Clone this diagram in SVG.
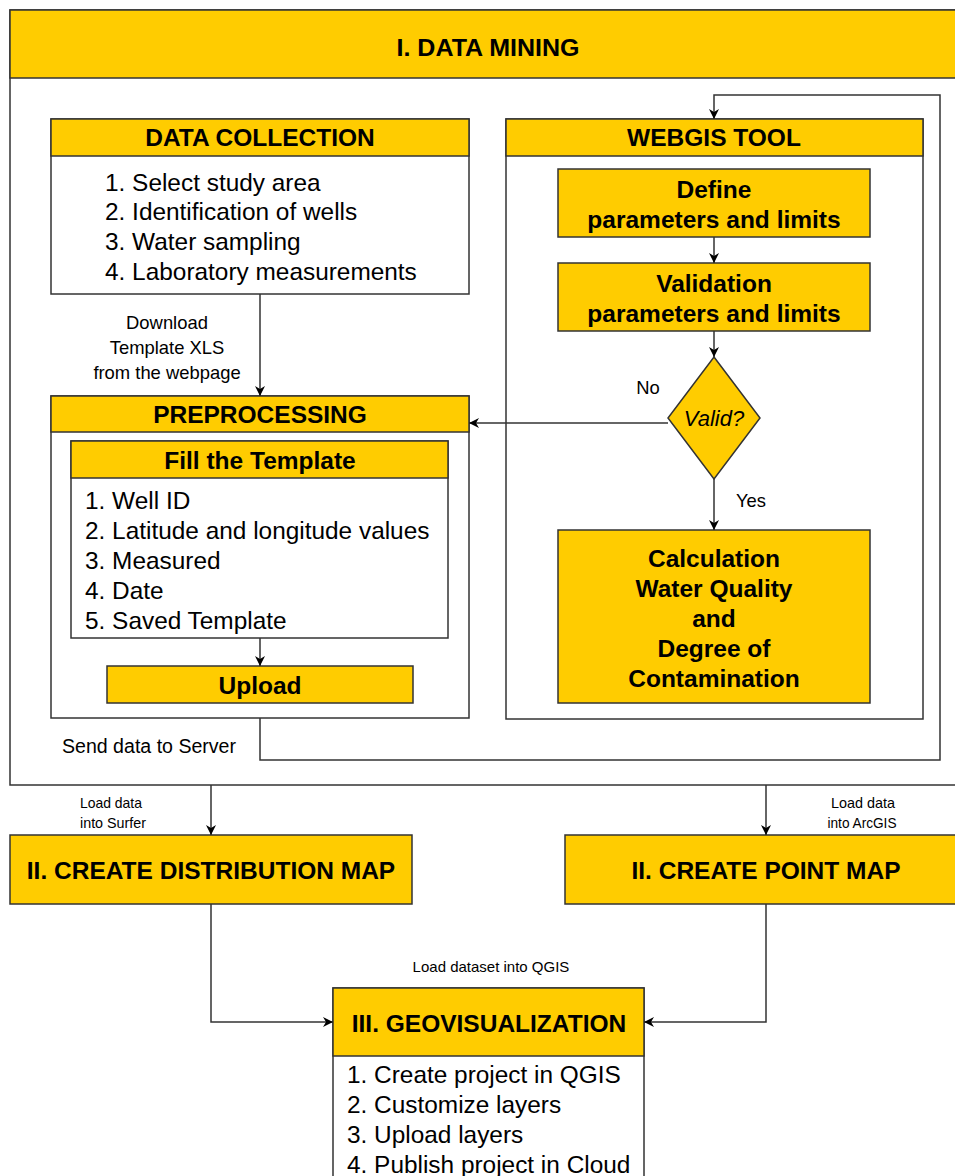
<svg xmlns="http://www.w3.org/2000/svg" width="955" height="1176" viewBox="0 0 955 1176">
  <style>
    .box { fill: #ffffff; stroke: #333333; stroke-width: 1.5; }
    .hdr { fill: #ffcc00; stroke: #333333; stroke-width: 1.5; }
    .edge { fill: none; stroke: #333333; stroke-width: 1.5; }
    text { font-family: "Liberation Sans", Arial, sans-serif; fill: #000000; }
    .title { font-size: 24.5px; font-weight: bold; text-anchor: middle; }
    .item { font-size: 24.4px; }
    .lbl { font-size: 18.4px; text-anchor: middle; }
    .cond { font-size: 20px; }
    .small { font-size: 15px; text-anchor: middle; }
  </style>
  <defs>
    <marker id="arrow" viewBox="0 0 10 10" refX="10" refY="5" markerWidth="10" markerHeight="10" markerUnits="userSpaceOnUse" orient="auto">
      <path d="M0,0 L10,5 L0,10 L3,5 Z" fill="#000000"/>
    </marker>
  </defs>

  <!-- Stage I container -->
  <g id="data-mining">
    <rect class="box" x="10" y="10" width="960" height="775"/>
    <rect class="hdr" x="10" y="10" width="960" height="68"/>
    <text class="title" x="488" y="56" font-size="28" textLength="183" lengthAdjust="spacingAndGlyphs">I. DATA MINING</text>
  </g>

  <g id="data-collection">
    <rect class="box" x="51" y="119" width="418" height="175"/>
    <rect class="hdr" x="51" y="119" width="418" height="37"/>
    <text class="title" x="260" y="146">DATA COLLECTION</text>
    <text class="item" x="105" y="191">1. Select study area</text>
    <text class="item" x="105" y="220">2. Identification of wells</text>
    <text class="item" x="105" y="250">3. Water sampling</text>
    <text class="item" x="105" y="280">4. Laboratory measurements</text>
  </g>

  <g id="webgis-tool">
    <rect class="box" x="506" y="119" width="417" height="600"/>
    <rect class="hdr" x="506" y="119" width="417" height="37"/>
    <text class="title" x="714" y="146">WEBGIS TOOL</text>
  </g>

  <g id="define-parameters">
    <rect class="hdr" x="558" y="169" width="312" height="68"/>
    <text class="title" x="714" y="198">Define</text>
    <text class="title" x="714" y="228">parameters and limits</text>
  </g>

  <g id="validation-parameters">
    <rect class="hdr" x="558" y="263" width="312" height="68"/>
    <text class="title" x="714" y="292">Validation</text>
    <text class="title" x="714" y="322">parameters and limits</text>
  </g>

  <g id="valid-decision">
    <polygon class="hdr" points="714,357 760,418 714,479 668,418"/>
    <text x="714" y="426" font-size="22" font-style="italic" text-anchor="middle">Valid?</text>
  </g>

  <g id="calculation">
    <rect class="hdr" x="558" y="530" width="312" height="173"/>
    <text class="title" x="714" y="567">Calculation</text>
    <text class="title" x="714" y="597">Water Quality</text>
    <text class="title" x="714" y="627">and</text>
    <text class="title" x="714" y="657">Degree of</text>
    <text class="title" x="714" y="687">Contamination</text>
  </g>

  <g id="preprocessing">
    <rect class="box" x="51" y="396" width="418" height="322"/>
    <rect class="hdr" x="51" y="396" width="418" height="36"/>
    <text class="title" x="260" y="423">PREPROCESSING</text>
  </g>

  <g id="fill-template">
    <rect class="box" x="71" y="441" width="377" height="197"/>
    <rect class="hdr" x="71" y="441" width="377" height="37"/>
    <text class="title" x="260" y="469">Fill the Template</text>
    <text class="item" x="85" y="509">1. Well ID</text>
    <text class="item" x="85" y="539">2. Latitude and longitude values</text>
    <text class="item" x="85" y="569">3. Measured</text>
    <text class="item" x="85" y="599">4. Date</text>
    <text class="item" x="85" y="629">5. Saved Template</text>
  </g>

  <g id="upload">
    <rect class="hdr" x="107" y="666" width="306" height="37"/>
    <text class="title" x="260" y="694">Upload</text>
  </g>

  <!-- Stage II -->
  <g id="distribution-map">
    <rect class="hdr" x="10" y="835" width="402" height="69"/>
    <text class="title" x="211" y="879">II. CREATE DISTRIBUTION MAP</text>
  </g>

  <g id="point-map">
    <rect class="hdr" x="565" y="835" width="405" height="69"/>
    <text class="title" x="766" y="879">II. CREATE POINT MAP</text>
  </g>

  <!-- Stage III -->
  <g id="geovisualization">
    <rect class="box" x="333" y="988" width="311" height="200"/>
    <rect class="hdr" x="333" y="988" width="311" height="68"/>
    <text class="title" x="489" y="1032" font-size="26.6">III. GEOVISUALIZATION</text>
    <text class="item" x="347" y="1083">1. Create project in QGIS</text>
    <text class="item" x="347" y="1113">2. Customize layers</text>
    <text class="item" x="347" y="1143">3. Upload layers</text>
    <text class="item" x="347" y="1173">4. Publish project in Cloud</text>
  </g>

  <!-- Connectors -->
  <g id="connectors">
    <path class="edge" d="M714,237 L714,263" marker-end="url(#arrow)"/>
    <path class="edge" d="M714,331 L714,357" marker-end="url(#arrow)"/>
    <path class="edge" d="M714,479 L714,530" marker-end="url(#arrow)"/>
    <path class="edge" d="M668,423 L469,423" marker-end="url(#arrow)"/>
    <path class="edge" d="M260,294 L260,396" marker-end="url(#arrow)"/>
    <path class="edge" d="M260,638 L260,666" marker-end="url(#arrow)"/>
    <path class="edge" d="M260,718 L260,760 L940,760 L940,95 L714,95 L714,119" marker-end="url(#arrow)"/>
    <path class="edge" d="M211,785 L211,835" marker-end="url(#arrow)"/>
    <path class="edge" d="M766,785 L766,835" marker-end="url(#arrow)"/>
    <path class="edge" d="M211,904 L211,1022 L333,1022" marker-end="url(#arrow)"/>
    <path class="edge" d="M766,904 L766,1022 L644,1022" marker-end="url(#arrow)"/>

    <text class="lbl" x="648" y="394">No</text>
    <text class="lbl" x="751" y="507">Yes</text>
    <text class="lbl" x="167" y="329">Download</text>
    <text class="lbl" x="167" y="354">Template XLS</text>
    <text class="lbl" x="167" y="379">from the webpage</text>
    <text class="cond" x="62" y="753" textLength="174" lengthAdjust="spacingAndGlyphs">Send data to Server</text>
    <text class="small" x="111" y="808" textLength="62" lengthAdjust="spacingAndGlyphs">Load data</text>
    <text class="small" x="113" y="828" textLength="66" lengthAdjust="spacingAndGlyphs">into Surfer</text>
    <text class="small" x="863" y="808" textLength="64" lengthAdjust="spacingAndGlyphs">Load data</text>
    <text class="small" x="862" y="828" textLength="69" lengthAdjust="spacingAndGlyphs">into ArcGIS</text>
    <text class="small" x="491" y="972" font-size="14.6">Load dataset into QGIS</text>
  </g>
</svg>
